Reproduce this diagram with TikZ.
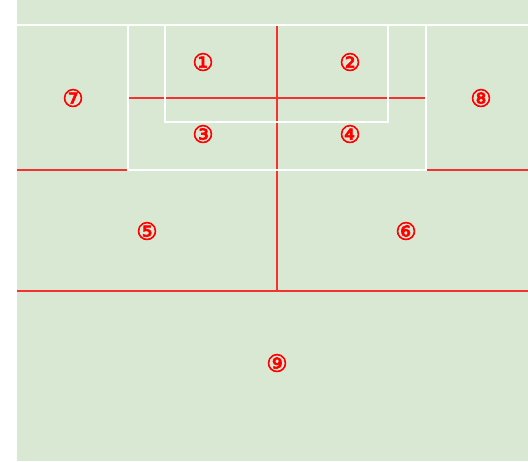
\documentclass[tikz,border=0pt]{standalone}
\usepackage{fontspec}
\newfontfamily\symfont[FakeBold=2.5]{DejaVu Sans}
\definecolor{zonered}{RGB}{245,50,50}
\definecolor{pitchgreen}{RGB}{217,232,211}
\tikzset{
  zoneline/.style={fill=zonered, draw=none},
  pitchline/.style={draw=white, line width=2.4pt},
  lbl/.style={text=red, font=\symfont\fontsize{24}{24}\selectfont, inner sep=0pt}
}
\begin{document}
\begin{tikzpicture}[x=1pt,y=-1pt]
\useasboundingbox (0,0) rectangle (528,462);
\fill[pitchgreen] (17,0) rectangle (528,461);
% zone lines (thin filled strips)
\path[zoneline] (128,97.5) rectangle (426,98.6);
\path[zoneline] (276.4,25) rectangle (277.6,291);
\path[zoneline] (17,169.5) rectangle (128,170.6);
\path[zoneline] (426,169.5) rectangle (528,170.6);
\path[zoneline] (17,290.5) rectangle (528,291.6);
% pitch lines
\draw[pitchline] (17,25) -- (528,25);
\draw[pitchline] (128,25) -- (128,170) -- (426,170) -- (426,25);
\draw[pitchline] (165,25) -- (165,122) -- (388,122) -- (388,25);
% labels
\node[lbl] (z1) at (203,62) {①};
\node[lbl] (z2) at (350,62) {②};
\node[lbl] (z3) at (203,134) {③};
\node[lbl] (z4) at (350,134) {④};
\node[lbl] (z5) at (147,231) {⑤};
\node[lbl] (z6) at (406,231) {⑥};
\node[lbl] (z7) at (73,98) {⑦};
\node[lbl] (z8) at (481,98) {⑧};
\node[lbl] (z9) at (277,363) {⑨};
\end{tikzpicture}
\end{document}
